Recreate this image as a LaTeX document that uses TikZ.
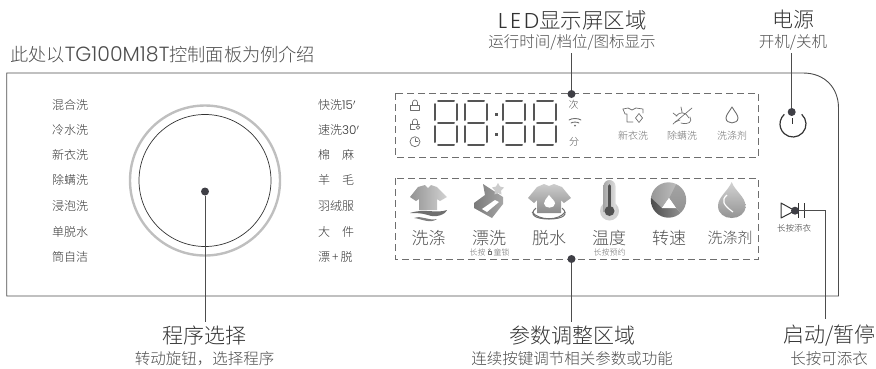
\documentclass[tikz,border=0pt]{standalone}
\usepackage{fontspec}
\setmainfont{Noto Sans CJK SC Light}
\newfontfamily\latinfont{Poppins Light}
\usetikzlibrary{calc}
\definecolor{inkd}{HTML}{333333}
\definecolor{inkm}{HTML}{4D4D4D}
\definecolor{inkl}{HTML}{6E6E6E}
\definecolor{dotc}{HTML}{3F3F46}
\definecolor{segc}{HTML}{555555}
\tikzset{
 x=1pt,y=-1pt,
 prog/.style={font=\fontsize{12}{14}\selectfont,text=inkd,inner sep=0pt},
 small/.style={font=\fontsize{10}{12}\selectfont,text=inkl,inner sep=0pt},
 tiny/.style={font=\fontsize{8}{9}\selectfont,text=inkl,inner sep=0pt},
 big/.style={font=\fontsize{17}{19}\selectfont,text=inkm,inner sep=0pt},
 title/.style={font=\fontsize{21}{24}\selectfont,text=inkd,inner sep=0pt},
 sub/.style={font=\fontsize{15.5}{18}\selectfont,text=inkm,inner sep=0pt},
 zone/.style={draw=inkl,line width=0.9pt,dash pattern=on 7pt off 4pt},
 leader/.style={draw=inkm,line width=0.9pt},
 pin/.style={circle,fill=dotc,minimum size=8pt,inner sep=0pt},
 seg/.style={draw=segc,line width=2pt,line cap=round},
 icon/.style={draw=inkl,line width=0.7pt,line join=round,line cap=round},
}
\newcommand{\digitat}[2]{%
 \begin{scope}[shift={(#1,#2)}]
 \draw[seg] (3,1)--(19,1);
 \draw[seg] (3,23)--(19,23);
 \draw[seg] (3,45)--(19,45);
 \draw[seg] (0,4)--(0,20);
 \draw[seg] (22,4)--(22,20);
 \draw[seg] (0,26)--(0,42);
 \draw[seg] (22,26)--(22,42);
 \end{scope}}
\begin{document}
\begin{tikzpicture}
\useasboundingbox (0,0) rectangle (876,368);
% panel
\draw[draw=inkm,line width=0.9pt] (6.7,73) -- (803,73) .. controls (825,73) and (838.5,88) .. (838.5,108) -- (838.5,296) -- (6.7,296) -- cycle;
\node[font=\fontsize{18.2}{20}\selectfont,text=inkm,inner sep=0pt,anchor=west] (intro) at (10,55) {此处以{\latinfont\fontsize{20.5}{20}\selectfont TG100M18T}控制面板为例介绍};
% programs
\foreach \n/\y/\t in {a/105/混合洗,b/130/冷水洗,c/155/新衣洗,d/180/除螨洗,e/206/浸泡洗,f/231.5/单脱水,g/257/筒自洁}
 \node[prog] (l\n) at (70,\y) {\t};
\foreach \n/\y/\t in {a/105/快洗{\latinfont 15}$'$,b/130/速洗{\latinfont 30}$'$,c/155/棉\hspace{1em}麻,d/180/羊\hspace{1em}毛,e/206/羽绒服,f/231.5/大\hspace{1em}件,g/257/漂\,+\,脱}
 \node[prog,anchor=west] (r\n) at (318,\y) {\t};
% knob
\draw[draw=gray!50,line width=2.4pt] (205,180.5) circle (75);
\draw[draw=inkd,line width=0.7pt] (205,180.5) circle (66);
\node[pin] (knob) at (205,191.5) {};
% zones
\draw[zone] (395,93) rectangle (758.5,157);
\draw[zone] (395,178) rectangle (758.5,259);
% display
\draw[icon] (412.5,105) -- (412.5,102.5) arc[start angle=180,end angle=360,radius=2.5] -- (417.5,105);
\draw[icon] (410.5,105) rectangle (419.5,110);
\draw[icon] (412.5,124) -- (412.5,121.5) arc[start angle=180,end angle=360,radius=2.5] -- (417.5,124);
\draw[icon] (410.5,124) -- (410.5,129) -- (415,129);
\draw[icon] (410.5,124) -- (419.5,124);
\draw[icon] (418,127.5) circle (1.8);
\draw[icon] (415,141.7) circle (5);
\draw[icon] (415,138.5) -- (415,141.7) -- (418,141.7);
\digitat{435}{100}\digitat{465}{100}\digitat{503}{100}\digitat{534}{100}
\fill[segc] (494.5,112.5) rectangle (497.5,115.5);
\fill[segc] (494.5,132.5) rectangle (497.5,135.5);
\node[small,text=inkm] (ci) at (573.5,105) {次};
\node[small,text=inkm] (fen) at (574,141.7) {分};
\draw[icon,line width=0.9pt] (569,120) .. controls (572,118) and (578,118) .. (581,120);
\draw[icon,line width=0.9pt] (571,123) .. controls (573,121.8) and (577,121.8) .. (579,123);
\fill[inkl] (575,125.5) circle (1);
% display icons
\draw[icon] (623,109) -- (628,108) -- (632,110) -- (636,108) -- (643,109) -- (643,113);
\draw[icon] (623,109) -- (625,114) -- (627,114) -- (627,122) -- (633,122);
\draw[icon] (639,113.5) -- (642.5,118) -- (639,122.5) -- (635.5,118) -- cycle;
\node[small] (nx) at (633,135.7) {新衣洗};
\draw[icon] (673,124) -- (692,108);
\draw[icon] (676,116) .. controls (680,111) and (686,112) .. (689,118) (673,113) -- (677,116) (681,107) -- (682,112) (675,122) -- (680,120);
\draw[icon] (681,123) .. controls (688,125) and (693,122) .. (690,117);
\node[small] (cm) at (682,135.7) {除螨洗};
\draw[icon,line width=0.9pt] (732,107) .. controls (735,112) and (738,115) .. (738,118) .. controls (738,124.5) and (726,124.5) .. (726,118) .. controls (726,115) and (729,112) .. (732,107) -- cycle;
\node[small] (xd) at (732,135.7) {洗涤剂};
% power
\draw[draw=inkd,line width=1.2pt] (793,124) ++(-48:13) arc[start angle=-48,end angle=228,radius=13];
\draw[draw=inkd,line width=0.9pt] (792.7,118) -- (792.7,124);
% wash
\shade[left color=gray!85,right color=gray!35] (418,187) -- (425,185) -- (428,188) -- (431,185) -- (437,187) -- (447,197) -- (440,201) -- (437,199) -- (437,210) -- (419,210) -- (419,199) -- (416,201) -- (410,197) -- cycle;
\fill[inkl] (410,213) .. controls (425,208) and (436,214) .. (447,210) .. controls (445,215) and (435,218) .. (428,215) .. controls (422,213) and (415,213) .. (410,213) -- cycle;
\fill[gray] (414,218) .. controls (422,215) and (428,221) .. (437,219) .. controls (430,224) and (422,219) .. (414,218) -- cycle;
\node[big] (xi) at (428.5,238) {洗涤};
% rinse
\shade[left color=gray!95!black,right color=gray!70] (474,203) -- (485,195) -- (483,184) -- (503,197) -- (503,204) -- (492,218) -- (474,208) -- cycle;
\fill[white] (482,209) -- (495,200) -- (499,202) -- (487,212) -- cycle;
\fill[gray!40] (498,183) -- (500,186.5) -- (504,187.5) -- (501,190.5) -- (501.5,194.5) -- (498,193) -- (494.5,194.5) -- (495,190.5) -- (492,187.5) -- (496,186.5) -- cycle;
\node[big] (pi) at (489,238) {漂洗};
\node[tiny] (pt) at (489.5,252.7) {长按\hspace{1em}童锁};
\draw[icon,line width=0.4pt] (487.7,251) rectangle (491.3,254.5);
\draw[icon,line width=0.4pt] (489.5,249.7) circle (1);
% spin
\shade[top color=gray!40,bottom color=gray!90] (537,187) -- (544,184) -- (549,186) -- (554,184) -- (562,187) -- (571,198) -- (564,203) -- (561,200) -- (561,213) -- (537,213) -- (537,200) -- (534,203) -- (528,198) -- cycle;
\fill[white] (549,195) .. controls (552,199) and (555,201) .. (555,203.5) .. controls (555,209) and (544,209) .. (544,203.5) .. controls (544,201) and (546,199) .. (549,195) -- cycle;
\draw[inkl,line width=1pt] (536,208) .. controls (529,214) and (534,219) .. (549,219) .. controls (564,219) and (569,214) .. (562,208);
\draw[inkl,line width=1pt] (532,212) .. controls (539,221) and (559,221) .. (565,212);
\node[big] (tu) at (549,238) {脱水};
% thermometer
\fill[gray!35] (609.5,211) circle (9.5);
\shade[left color=gray!70,right color=gray!25] (603.5,186) arc[start angle=180,end angle=360,radius=6] -- (615.5,212) -- (603.5,212) -- cycle;
\draw[inkd!85,line width=3.6pt,line cap=round] (609.5,186) -- (609.5,210);
\fill[inkd!85] (609.5,211) circle (5);
\node[big] (wd) at (609,238) {温度};
\node[tiny] (wt) at (609.5,252.7) {长按预约};
% speed
\begin{scope}
\clip (668.5,200) circle (17.7);
\shade[left color=gray!85,right color=gray!50] (662,208) -- (648,195) -- (648,180) -- (678,180) -- (669,198) -- cycle;
\shade[top color=gray!70,bottom color=gray!90] (669,198) -- (678,180) -- (690,180) -- (690,222) -- (676,208) -- cycle;
\shade[left color=gray!55!black,right color=gray!70] (676,208) -- (690,222) -- (648,222) -- (648,195) -- (662,208) -- cycle;
\end{scope}
\fill[white] (669,198) -- (676,208) -- (662,208) -- cycle;
\node[big] (zs) at (669,238) {转速};
% detergent
\shade[top color=gray!35,bottom color=gray!90] (731.7,182) .. controls (735,191) and (745.5,197) .. (745.5,206) .. controls (745.5,222) and (718,222) .. (718,206) .. controls (718,197) and (728,191) .. (731.7,182) -- cycle;
\draw[white,line width=1.2pt] (727,195) .. controls (721,200) and (723,205) .. (733,212);
\node[big,font=\fontsize{15}{17}\selectfont] (jj) at (730,238) {洗涤剂};
% add clothing
\draw[draw=inkd,line width=1pt,line join=round] (781,203) -- (795,210.7) -- (781,218) -- cycle;
\draw[draw=inkd,line width=1pt] (798.5,203) -- (798.5,218);
\draw[draw=inkd,line width=1pt] (804,203) -- (804,218);
\node[tiny,text=inkd,font=\fontsize{8.5}{10}\selectfont] (cy) at (794,228) {长按添衣};
% callouts
\node[title,font=\fontsize{21.5}{24}\selectfont] (ledt) at (572.5,20) {{\latinfont\addfontfeature{LetterSpace=14}LED}显示屏区域};
\node[sub] (leds) at (572,42.7) {运行时间/档位/图标显示};
\node[title] (powt) at (793,20) {电源};
\node[sub] (pows) at (793,42.7) {开机/关机};
\node[title] (prt) at (204.5,335.5) {程序选择};
\node[sub] (prs) at (204.5,359) {转动旋钮，选择程序};
\node[title] (part) at (572,335.5) {参数调整区域};
\node[sub] (pars) at (572,359) {连续按键调节相关参数或功能};
\node[title] (stt) at (829.5,335.5) {启动/暂停};
\node[sub] (sts) at (829,359) {长按可添衣};
% pins and leaders
\node[pin] (p1) at (571.5,94) {};
\node[pin] (p2) at (791.7,112) {};
\node[pin] (p3) at (571.5,259) {};
\node[pin] (p4) at (795,210.7) {};
\coordinate (c1) at (571.5,53);
\coordinate (c2) at (791.7,53);
\coordinate (c3) at (205,322);
\coordinate (c4) at (571.5,322);
\coordinate (c5) at (825,319);
\draw[leader] (c1) -- (p1);
\draw[leader] (c2) -- (p2);
\draw[leader] (knob) -- (c3);
\draw[leader] (p3) -- (c4);
\draw[leader] (p4) -| (c5);
\end{tikzpicture}
\end{document}
